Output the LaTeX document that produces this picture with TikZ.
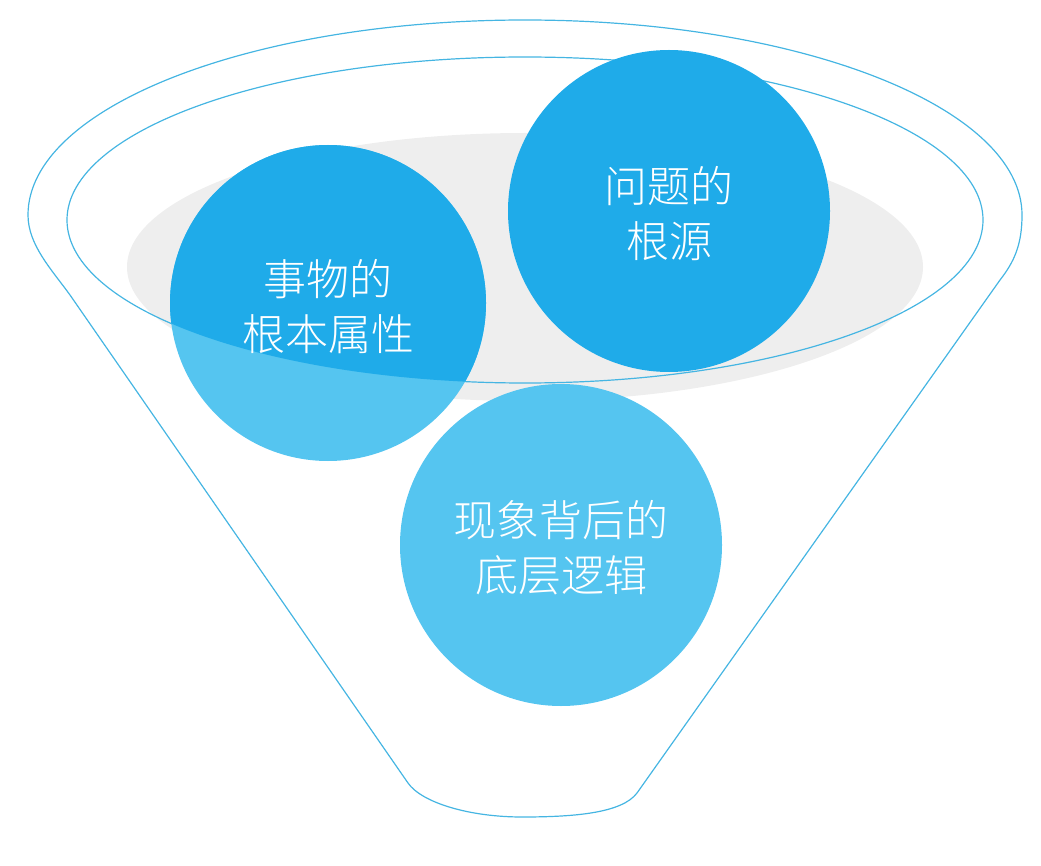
\documentclass[tikz,border=0pt]{standalone}
\usepackage{fontspec}
\IfFontExistsTF{Noto Sans CJK SC Light}
  {\newfontfamily\cjk{Noto Sans CJK SC Light}}
  {\newfontfamily\cjk{Noto Sans CJK SC}}
\definecolor{darkblue}{HTML}{1FABE9}
\definecolor{lightblue}{HTML}{55C5F0}
\definecolor{funnelline}{HTML}{45B5E2}
\definecolor{shadowgray}{HTML}{EEEEEE}
\tikzset{
  funnel/.style={draw=funnelline, line width=1.2pt},
  label/.style={text=white, align=center, inner sep=0pt, font=\cjk\fontsize{43}{55}\selectfont}
}
\begin{document}
\begin{tikzpicture}[x=1pt,y=-1pt]
\useasboundingbox (0,0) rectangle (1041,866);
% shadow
\fill[shadowgray] (525,267) ellipse [x radius=398, y radius=134];
% funnel outline
\draw[funnel] (28,215) arc[start angle=180, end angle=360, x radius=497, y radius=195]
  .. controls (1022,245) and (1014,262) .. (1000,280)
  -- (637,793)
  .. controls (622,813) and (575,817) .. (522,817)
  .. controls (470,817) and (422,803) .. (408,783)
  -- (70,295)
  .. controls (52,270) and (28,245) .. cycle;
% inner rim
\draw[funnel] (525,220) ellipse [x radius=458, y radius=163];
% circles
\fill[lightblue] (328,303) circle (158);
\begin{scope}
  \clip (525,220) ellipse [x radius=458, y radius=163];
  \fill[darkblue] (328,303) circle (158);
\end{scope}
\fill[darkblue] (669,211) circle (161);
\fill[lightblue] (561,545) circle (161);
% texts
\node[label] (attr) at (328,307) {事物的\\根本属性};
\node[label] (root) at (669,214) {问题的\\根源};
\node[label] (logic) at (561,548) {现象背后的\\底层逻辑};
\end{tikzpicture}
\end{document}
